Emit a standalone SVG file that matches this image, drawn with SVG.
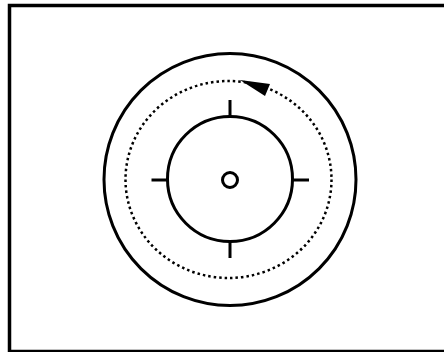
<svg xmlns="http://www.w3.org/2000/svg" width="444" height="352" viewBox="0 0 444 352">
<style>
.s{fill:none;stroke:#000;stroke-width:3}
.d{fill:none;stroke:#000;stroke-width:2.5;stroke-dasharray:2.5 3}
</style>
<rect x="0" y="0" width="444" height="352" fill="#fff"/>
<rect id="frame" x="9.5" y="5.5" width="440" height="346" fill="none" stroke="#000" stroke-width="3.5"/>
<g id="outer"><circle class="s" cx="230" cy="179.5" r="126"/></g>
<g id="orbit"><ellipse class="d" cx="228.5" cy="179.5" rx="103" ry="98.5"/>
<polygon points="240,80 270,84 265,96" fill="#000"/></g>
<g id="inner"><circle class="s" cx="230" cy="179" r="62.5"/>
<line class="s" x1="230" y1="100" x2="230" y2="116.5"/>
<line class="s" x1="230" y1="241.5" x2="230" y2="258"/>
<line class="s" x1="151.5" y1="180" x2="167.5" y2="180"/>
<line class="s" x1="292.5" y1="180" x2="309" y2="180"/>
</g>
<g id="center"><circle class="s" cx="230" cy="180" r="7.5"/></g>
</svg>
